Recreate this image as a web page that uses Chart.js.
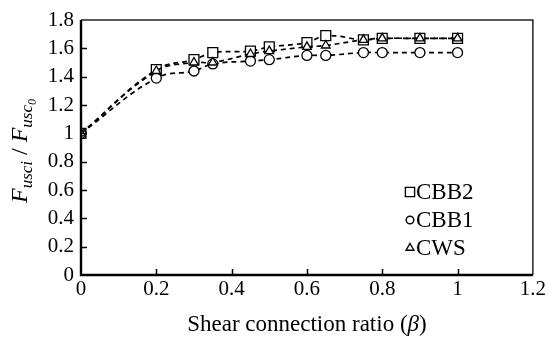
<!DOCTYPE html>
<html>
<head>
<meta charset="utf-8">
<script src="https://cdn.jsdelivr.net/npm/chart.js@4.4.1/dist/chart.umd.min.js"></script>
<style>
  html, body { margin: 0; padding: 0; background: #fff; }
  #wrap { width: 548px; height: 338px; }
</style>
</head>
<body>
<div id="wrap"><canvas id="chart" width="548" height="338"></canvas></div>
<script>
// valori
const beta = [0, 0.2, 0.3, 0.35, 0.45, 0.5, 0.6, 0.65, 0.75, 0.8, 0.9, 1.0];
const cbb2 = [1, 1.45, 1.52, 1.57, 1.58, 1.61, 1.64, 1.69, 1.66, 1.67, 1.67, 1.67];
const cbb1 = [1, 1.39, 1.44, 1.49, 1.51, 1.52, 1.55, 1.55, 1.57, 1.57, 1.57, 1.57];
const cws  = [1, 1.44, 1.50, 1.50, 1.56, 1.58, 1.61, 1.62, 1.66, 1.67, 1.67, 1.67];
const seriesNames = ['CBB2', 'CBB1', 'CWS'];
const xTicks = [0, 0.2, 0.4, 0.6, 0.8, 1.0, 1.2];
const yTicks = [0, 0.2, 0.4, 0.6, 0.8, 1.0, 1.2, 1.4, 1.6, 1.8];

const SERIF = '"Liberation Serif", serif';

function pts(ys) {
    return beta.map((b, i) => ({ x: b, y: ys[i] }));
}

function makeSet(label, ys, style, radius, order) {
    return {
        label,
        data: pts(ys),
        borderColor: '#000',
        borderWidth: 1.7,
        borderDash: [5, 4],
        tension: 0.4,
        fill: false,
        pointStyle: style,
        pointRadius: radius,
        pointBorderWidth: 1.3,
        pointBorderColor: '#000',
        pointBackgroundColor: '#fff',
        order
    };
}

function fmt(v) {
    return String(Number(v.toFixed(1)));
}

// assi, tacche interne, titoli e legenda
const decor = {
    id: 'decor',
    afterDraw(c) {
        const ctx = c.ctx;
        const a = c.chartArea;
        const xs = c.scales.x, ys = c.scales.y;
        ctx.save();

        ctx.strokeStyle = '#222';
        ctx.lineWidth = 1.5;
        ctx.beginPath();
        ctx.moveTo(a.left, a.top);
        ctx.lineTo(a.right, a.top);
        ctx.lineTo(a.right, a.bottom);
        ctx.stroke();

        ctx.strokeStyle = '#000';
        ctx.lineWidth = 2.4;
        ctx.beginPath();
        ctx.moveTo(a.left, a.top);
        ctx.lineTo(a.left, a.bottom);
        ctx.lineTo(a.right, a.bottom);
        ctx.stroke();

        ctx.lineWidth = 1.5;
        ctx.beginPath();
        xTicks.forEach(t => {
            if (t === 0 || t === 1.2) return;
            const px = Math.round(xs.getPixelForValue(t)) + 0.5;
            ctx.moveTo(px, a.bottom);
            ctx.lineTo(px, a.bottom - 6);
        });
        yTicks.forEach(t => {
            if (t === 0 || t === 1.8) return;
            const py = Math.round(ys.getPixelForValue(t)) + 0.5;
            ctx.moveTo(a.left, py);
            ctx.lineTo(a.left + 6, py);
        });
        ctx.stroke();

        // titolo asse x
        ctx.fillStyle = '#000';
        ctx.textBaseline = 'alphabetic';
        const parts = [
            { t: 'Shear connection ratio (', f: '23px ' + SERIF },
            { t: 'β', f: 'italic 23px ' + SERIF },
            { t: ')', f: '23px ' + SERIF }
        ];
        let w = 0;
        parts.forEach(p => { ctx.font = p.f; p.w = ctx.measureText(p.t).width; w += p.w; });
        let x = (a.left + a.right) / 2 - w / 2;
        parts.forEach(p => { ctx.font = p.f; ctx.fillText(p.t, x, 331); x += p.w; });

        // titolo asse y
        ctx.save();
        ctx.translate(27, 151);
        ctx.rotate(-Math.PI / 2);
        const yp = [
            { t: 'F', f: 'italic 24px ' + SERIF, dy: 0 },
            { t: 'usci', f: 'italic 17px ' + SERIF, dy: 5 },
            { t: ' / ', f: '24px ' + SERIF, dy: 0 },
            { t: 'F', f: 'italic 24px ' + SERIF, dy: 0 },
            { t: 'usc', f: 'italic 17px ' + SERIF, dy: 5 },
            { t: '0', f: 'italic 12px ' + SERIF, dy: 9 }
        ];
        w = 0;
        yp.forEach(p => { ctx.font = p.f; p.w = ctx.measureText(p.t).width; w += p.w; });
        x = -w / 2;
        yp.forEach(p => { ctx.font = p.f; ctx.fillText(p.t, x, p.dy); x += p.w; });
        ctx.restore();

        // legenda
        const styles = ['rect', 'circle', 'triangle'];
        const radii = [6.5, 3.8, 4.5];
        const rows = [198.5, 226.5, 254.5];
        ctx.font = '23px ' + SERIF;
        seriesNames.forEach((name, i) => {
            ctx.strokeStyle = '#000';
            ctx.fillStyle = '#fff';
            ctx.lineWidth = 1.4;
            Chart.helpers.drawPoint(ctx, { pointStyle: styles[i], radius: radii[i], rotation: 0, borderWidth: 1.4 }, 410, rows[i] - 6.5);
            ctx.fillStyle = '#000';
            ctx.fillText(name, 416, rows[i]);
        });

        ctx.restore();
    }
};

const chart = new Chart(document.getElementById('chart').getContext('2d'), {
    type: 'line',
    data: {
        datasets: [
            makeSet(seriesNames[0], cbb2, 'rect', 7, 3),
            makeSet(seriesNames[1], cbb1, 'circle', 5, 2),
            makeSet(seriesNames[2], cws, 'triangle', 5, 1)
        ]
    },
    options: {
        responsive: false,
        animation: false,
        events: [],
        layout: { padding: { top: 20, right: 15, left: 0, bottom: 0 } },
        plugins: { legend: { display: false }, tooltip: { enabled: false } },
        scales: {
            x: {
                type: 'linear',
                min: 0,
                max: 1.2,
                afterFit: s => { s.height = 63; },
                afterBuildTicks: s => { s.ticks = xTicks.map(v => ({ value: v })); },
                grid: { display: false, drawTicks: false },
                border: { display: false },
                ticks: { color: '#000', font: { family: SERIF, size: 21 }, padding: 2, callback: fmt, maxRotation: 0, autoSkip: false }
            },
            y: {
                min: 0,
                max: 1.8,
                afterFit: s => { s.width = 81; },
                afterBuildTicks: s => { s.ticks = yTicks.map(v => ({ value: v })); },
                grid: { display: false, drawTicks: false },
                border: { display: false },
                ticks: { color: '#000', font: { family: SERIF, size: 21 }, padding: 7, callback: fmt, autoSkip: false }
            }
        }
    },
    plugins: [decor]
});
</script>
</body>
</html>
